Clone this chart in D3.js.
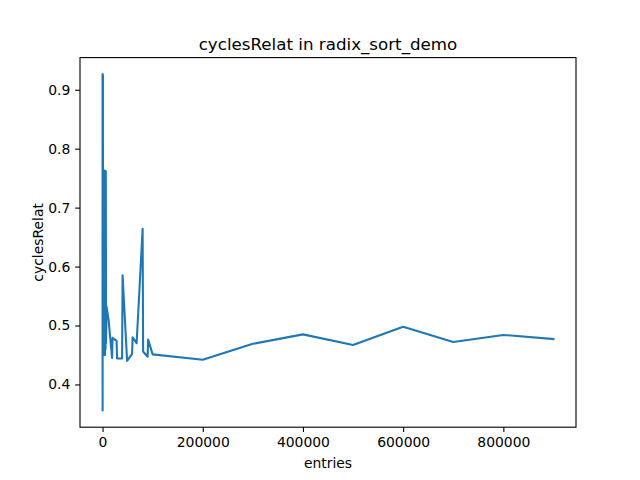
<!DOCTYPE html>
<html>
<head>
<meta charset="utf-8">
<script src="https://cdn.jsdelivr.net/npm/d3@7"></script>
<style>
  body { margin: 0; background: #fff; }
  text { font-family: "DejaVu Sans", sans-serif; fill: #000; }
</style>
</head>
<body>
<svg width="640" height="480"></svg>
<script>
// data
const entries = [
  1, 2, 4, 8, 16, 32, 64, 128, 256, 512, 768,
  1000, 1500, 2000, 2500, 3000, 3500, 4000, 4500, 5000, 5500, 6000, 6500, 7000, 8000,
  12000, 19000, 20000, 28000, 29000, 39000, 40000, 49000, 59000, 60000, 68000,
  80000, 81000, 90000, 91000, 100000,
  200000, 300000, 400000, 500000, 600000, 700000, 800000, 900000
];
const cyclesRelat = [
  0.926, 0.52, 0.90, 0.47, 0.85, 0.40, 0.92, 0.356, 0.926, 0.46, 0.925,
  0.45, 0.763, 0.46, 0.76, 0.45, 0.75, 0.46, 0.763, 0.45, 0.76, 0.46, 0.762, 0.47, 0.532,
  0.51, 0.445, 0.479, 0.474, 0.444, 0.444, 0.585, 0.440, 0.452, 0.480, 0.470,
  0.664, 0.456, 0.447, 0.476, 0.451,
  0.442, 0.469, 0.485, 0.467, 0.498, 0.472, 0.484, 0.477
];
const xTicks = [0, 200000, 400000, 600000, 800000];
const yTicks = [0.4, 0.5, 0.6, 0.7, 0.8, 0.9];

const title  = "cyclesRelat in radix_sort_demo";
const xLabel = "entries";
const yLabel = "cyclesRelat";

const svg    = d3.select("svg");
const plotL  = 80,   plotR = 576;
const plotT  = 57.6, plotB = 427.2;

// matplotlib-style 5% margins
function padded(ext) {
  const d = (ext[1] - ext[0]) * 0.05;
  return [ext[0] - d, ext[1] + d];
}

const x = d3.scaleLinear()
  .domain(padded(d3.extent(entries)))
  .range([plotL, plotR]);
const y = d3.scaleLinear()
  .domain(padded(d3.extent(cyclesRelat)))
  .range([plotB, plotT]);

const points = entries.map((e, i) => [e, cyclesRelat[i]]);

const line = d3.line()
  .x(d => x(d[0]))
  .y(d => y(d[1]));

svg.append("path")
  .datum(points)
  .attr("d", line)
  .attr("fill", "none")
  .attr("stroke", "#1f77b4")
  .attr("stroke-width", 2.08)
  .attr("stroke-linejoin", "round")
  .attr("stroke-linecap", "square");

// axes
const xAxis = d3.axisBottom(x).tickValues(xTicks).tickSize(4.86).tickPadding(4.86)
  .tickFormat(d3.format("d"));
const yAxis = d3.axisLeft(y).tickValues(yTicks).tickSize(4.86).tickPadding(4.86)
  .tickFormat(d3.format(".1f"));

const gx = svg.append("g").attr("transform", `translate(0,${plotB})`).call(xAxis);
const gy = svg.append("g").attr("transform", `translate(${plotL},0)`).call(yAxis);

[gx, gy].forEach(g => {
  g.select(".domain").remove();
  g.selectAll(".tick line").attr("stroke", "#000").attr("stroke-width", 1.1);
  g.selectAll(".tick text").attr("font-size", "13.9px").attr("font-family", "DejaVu Sans");
});

// frame
svg.append("rect")
  .attr("x", plotL).attr("y", plotT)
  .attr("width", plotR - plotL).attr("height", plotB - plotT)
  .attr("fill", "none").attr("stroke", "#000").attr("stroke-width", 1.1);

svg.append("text")
  .attr("x", (plotL + plotR) / 2).attr("y", 49.5)
  .attr("text-anchor", "middle").attr("font-size", "16.7px")
  .text(title);

svg.append("text")
  .attr("x", (plotL + plotR) / 2).attr("y", 467.5)
  .attr("text-anchor", "middle").attr("font-size", "13.9px")
  .text(xLabel);

svg.append("text")
  .attr("transform", `translate(43,${(plotT + plotB) / 2}) rotate(-90)`)
  .attr("text-anchor", "middle").attr("font-size", "13.9px")
  .text(yLabel);
</script>
</body>
</html>
